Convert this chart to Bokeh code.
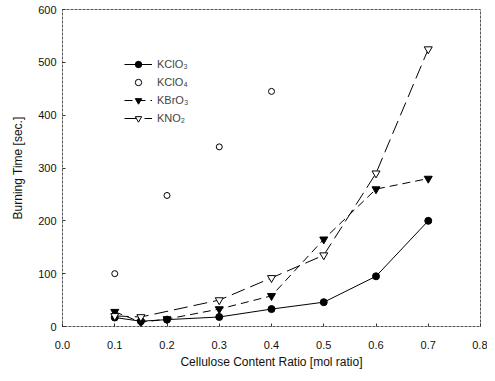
from bokeh.plotting import figure
from bokeh.embed import file_html
from bokeh.resources import INLINE
from bokeh.models import Legend, LegendItem, FixedTicker, Range1d

# data
x_kclo3 = [0.1, 0.15, 0.2, 0.3, 0.4, 0.5, 0.6, 0.7]
y_kclo3 = [17, 10, 13, 18, 33, 46, 95, 200]
x_kclo4 = [0.1, 0.2, 0.3, 0.4]
y_kclo4 = [100, 248, 340, 445]
x_kbro3 = [0.1, 0.15, 0.2, 0.3, 0.4, 0.5, 0.6, 0.7]
y_kbro3 = [28, 8, 14, 33, 58, 165, 260, 280]
x_kno2 = [0.1, 0.15, 0.3, 0.4, 0.5, 0.6, 0.7]
y_kno2 = [20, 18, 50, 92, 135, 290, 525]
x_ticks = [0.0, 0.1, 0.2, 0.3, 0.4, 0.5, 0.6, 0.7, 0.8]
y_ticks = [0, 100, 200, 300, 400, 500, 600]

FONT = "Liberation Sans"

p = figure(width=487, height=373, output_backend="svg", toolbar_location=None,
           x_range=Range1d(0, 0.8), y_range=Range1d(0, 600),
           min_border_left=62, min_border_right=7, min_border_top=9, min_border_bottom=47)
p.grid.visible = False
p.outline_line_color = "#555555"
p.outline_line_width = 1
p.outline_line_dash = "3 1"

p.xaxis.ticker = FixedTicker(ticks=x_ticks)
p.yaxis.ticker = FixedTicker(ticks=y_ticks)
p.xaxis.major_label_overrides = {t: f"{t:.1f}" for t in x_ticks}
for ax in (p.xaxis, p.yaxis):
    ax.axis_line_color = None
    ax.major_tick_in = 3
    ax.major_tick_out = 0
    ax.minor_tick_line_color = None
    ax.major_tick_line_color = "#333333"
    ax.major_label_text_font = FONT
    ax.major_label_text_font_size = "11px"
    ax.major_label_text_color = "#111111"
    ax.axis_label_text_font = FONT
    ax.axis_label_text_font_size = "12px"
    ax.axis_label_text_font_style = "normal"
    ax.axis_label_text_color = "#111111"
p.xaxis.axis_label = "Cellulose Content Ratio [mol ratio]"
p.yaxis.axis_label = "Burning Time [sec.]"
p.xaxis.major_label_standoff = 14
p.xaxis.axis_label_standoff = 3
p.yaxis.major_label_standoff = 6
p.yaxis.axis_label_standoff = 10

l1 = p.line(x_kclo3, y_kclo3, line_color="black", line_width=1)
m1 = p.scatter(x_kclo3, y_kclo3, marker="circle", size=7, fill_color="black", line_color="black")
m2 = p.scatter(x_kclo4, y_kclo4, marker="circle", size=6, fill_color="white", line_color="black")
l3 = p.line(x_kbro3, y_kbro3, line_color="black", line_width=1, line_dash="8 5")
m3 = p.scatter(x_kbro3, y_kbro3, marker="inverted_triangle", size=8, fill_color="black", line_color="black")
l4 = p.line(x_kno2, y_kno2, line_color="black", line_width=1, line_dash="14 6")
m4 = p.scatter(x_kno2, y_kno2, marker="inverted_triangle", size=8, fill_color="white", line_color="black")

legend = Legend(items=[
    LegendItem(label="KClO₃", renderers=[l1, m1]),
    LegendItem(label="KClO₄", renderers=[m2]),
    LegendItem(label="KBrO₃", renderers=[l3, m3]),
    LegendItem(label="KNO₂", renderers=[l4, m4]),
], location=(62, 200))
legend.background_fill_alpha = 0
legend.border_line_color = None
legend.label_text_font = FONT
legend.label_text_font_size = "11px"
legend.glyph_width = 28
legend.spacing = 2
legend.label_height = 16
legend.glyph_height = 16
p.add_layout(legend)

open("out.html", "w").write(file_html(p, INLINE))
